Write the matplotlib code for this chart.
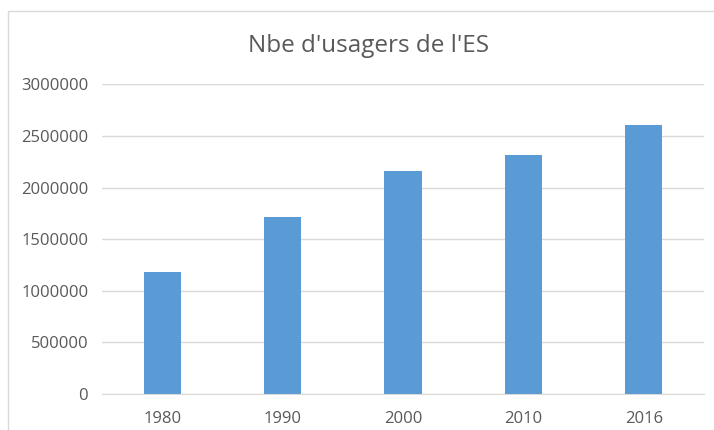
import matplotlib.pyplot as plt
from matplotlib.patches import Rectangle

years = ['1980', '1990', '2000', '2010', '2016']
usagers = [1180000, 1712000, 2164000, 2315000, 2604000]
yticks = [0, 500000, 1000000, 1500000, 2000000, 2500000, 3000000]

plt.rcParams['font.family'] = ['Open Sans', 'DejaVu Sans']

fig = plt.figure(figsize=(7.14, 4.30), dpi=100)
ax = fig.add_axes([0.143, 0.0837, 0.843, 0.7203])

ax.bar(range(len(years)), usagers, width=0.31, color='#5B9BD5', zorder=3)
ax.set_xlim(-0.5, len(years) - 0.5)
ax.set_ylim(0, 3000000)
ax.set_yticks(yticks)
ax.set_yticklabels([str(v) for v in yticks])
ax.set_xticks(range(len(years)))
ax.set_xticklabels(years)

ax.grid(axis='y', color='#d9d9d9', linewidth=1, zorder=0)
for side in ['top', 'right', 'left']:
    ax.spines[side].set_visible(False)
ax.spines['bottom'].set_color('#d9d9d9')
ax.tick_params(axis='both', length=0, labelsize=12, labelcolor='#595959')
ax.tick_params(axis='y', pad=10)
ax.tick_params(axis='x', pad=12)

fig.text(0.516, 0.893, "Nbe d'usagers de l'ES", ha='center', va='center',
         fontsize=17.5, color='#595959')

# chart frame (cut off on right and bottom in the original)
fig.patches.append(Rectangle((8 / 714, -0.1), 1.2, 1.1 - 11 / 430,
                             transform=fig.transFigure, fill=False,
                             edgecolor='#d9d9d9', linewidth=1))

fig.savefig('out.png', dpi=100)
